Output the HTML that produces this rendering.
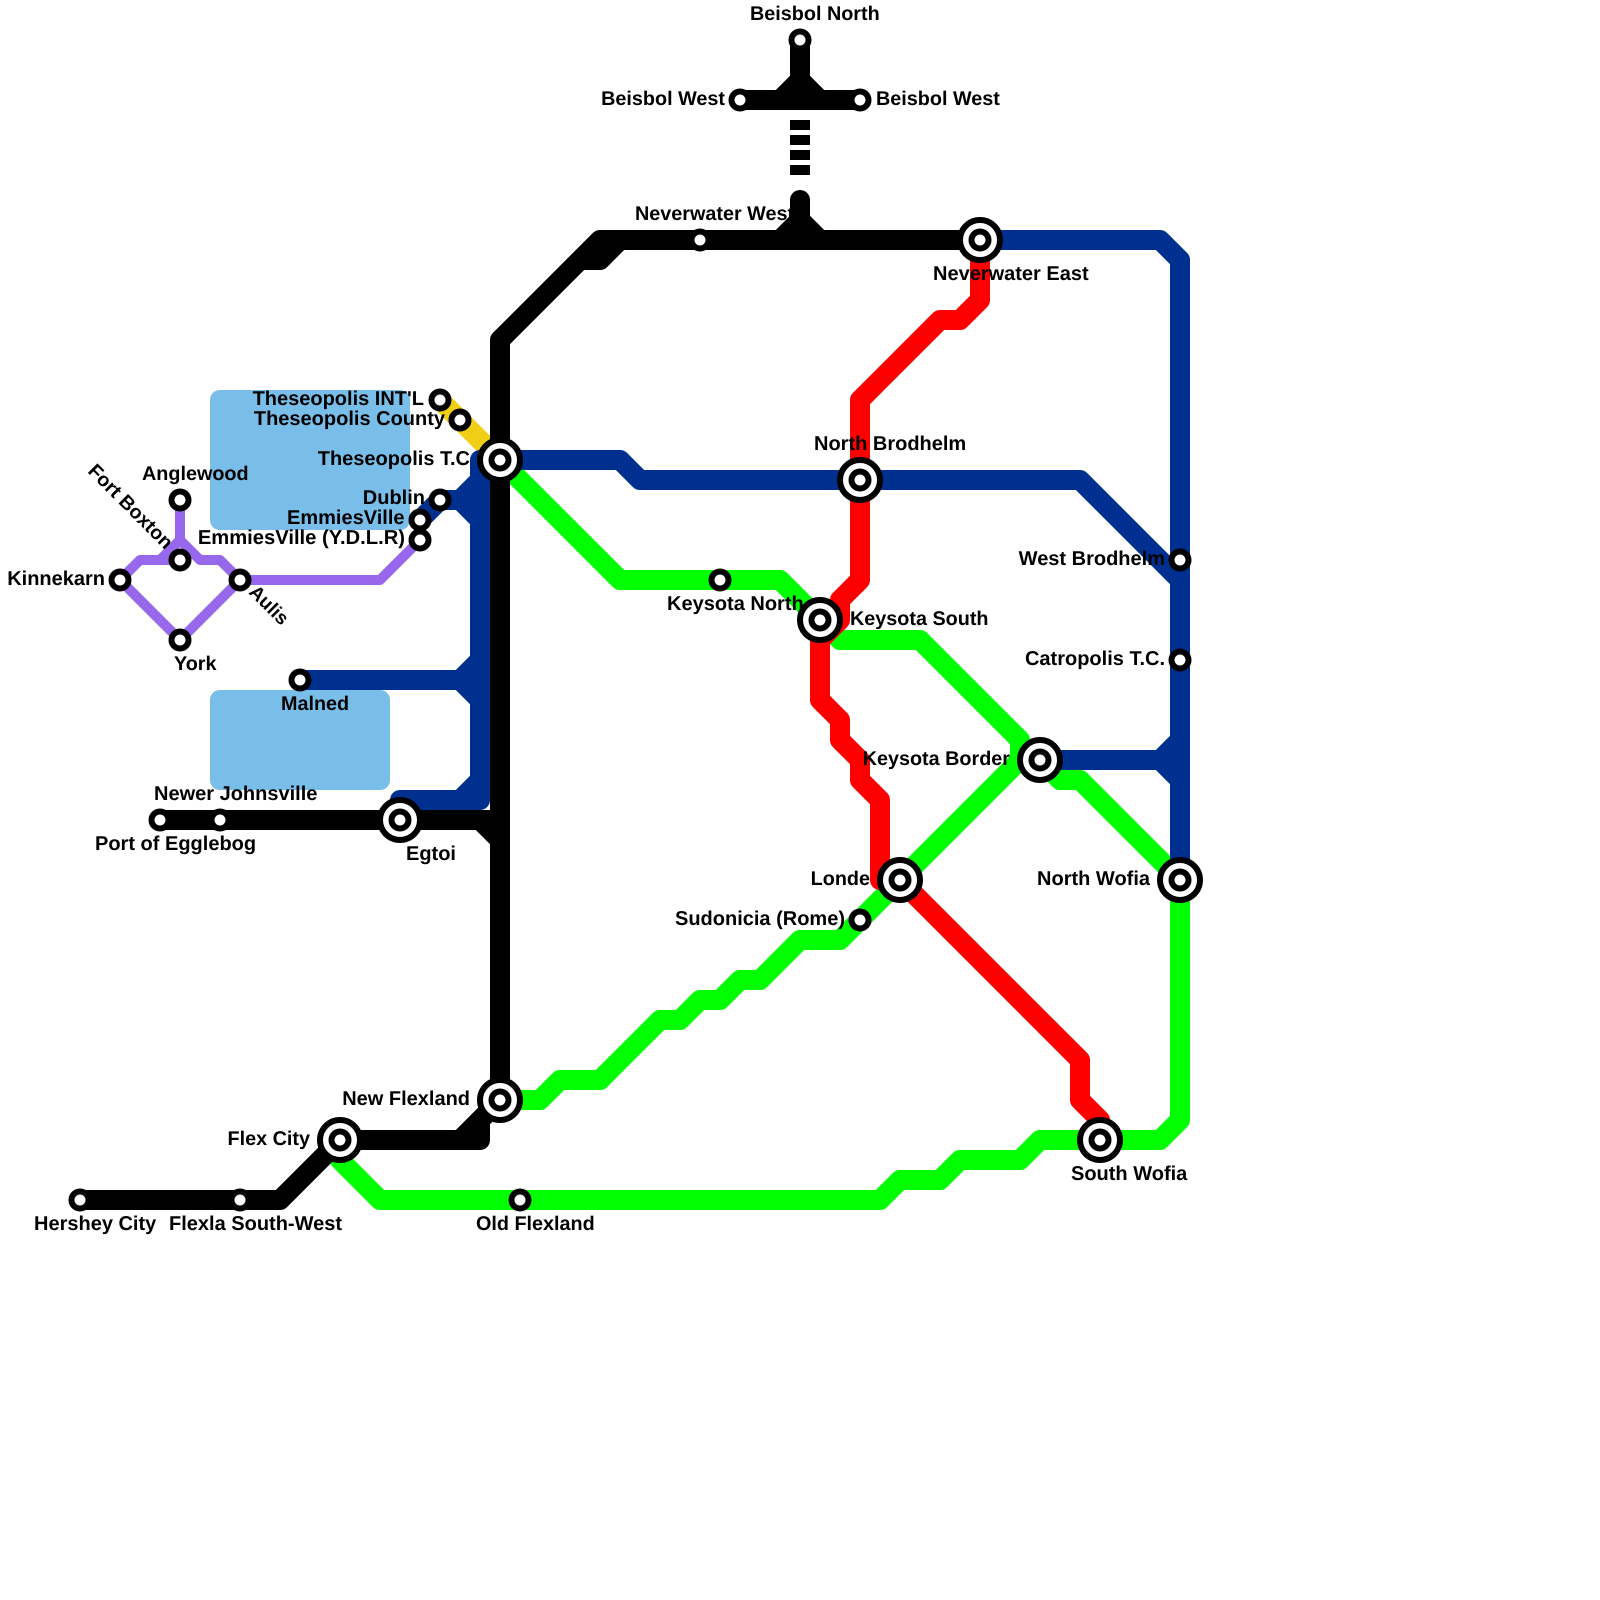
<!DOCTYPE html>
<html><head><meta charset="utf-8"><style>
html,body{margin:0;padding:0;background:#fff}
svg{display:block}
text{font-family:"Liberation Sans",sans-serif;font-weight:bold;font-size:19.8px;fill:#000;text-rendering:geometricPrecision}
text.w{font-size:20px}
.l{fill:none;stroke-linejoin:round;stroke-linecap:round;stroke-width:20}
.b{fill:none;stroke-linejoin:round;stroke-linecap:butt;stroke-width:20}
</style></head><body>
<svg width="1600" height="1600" viewBox="0 0 1600 1600" xmlns="http://www.w3.org/2000/svg">
<rect x="210" y="390" width="200" height="140" rx="10" fill="#79bde9"/>
<rect x="210" y="690" width="180" height="100" rx="10" fill="#79bde9"/>

<!-- purple -->
<g class="l" stroke="#9768eb" style="stroke-width:10">
<path d="M180 500V540L200 560H220L240 580"/>
<path d="M120 580L140 560H180"/>
<path d="M180 540L160 560"/>
<path d="M120 580L180 640L240 580H380L420 540"/>
</g>
<!-- yellow -->
<path class="l" stroke="#f0ce15" d="M440 400L500 460"/>
<!-- green -->
<g class="l" stroke="#00ff00">
<path d="M500 460L620 580H780L820 620L840 640H920L1020 740V760L840 940H800L760 980H740L720 1000H700L680 1020H660L600 1080H560L540 1100H500"/>
<path d="M1040 760L1060 780H1080L1180 880V1120L1160 1140H1040L1020 1160H960L940 1180H900L880 1200H380L340 1160V1140"/>
</g>
<!-- blue -->
<g class="l" stroke="#00308f">
<path d="M980 240H1160L1180 260V880"/>
<path d="M500 460H620L640 480H1080L1180 580"/>
<path d="M1040 760H1160"/>
<path d="M500 460H480V800H400"/>
<path d="M300 680H460"/>
<path d="M420 520L440 500H480"/>
</g>
<g class="b" stroke="#00308f">
<path d="M1160 760L1180 740M1160 760L1180 780"/>
<path d="M460 680L480 660M460 680L480 700"/>
<path d="M460 500L480 480M460 500L480 520"/>
<path d="M460 800L480 780"/>
</g>
<!-- red -->
<path class="l" stroke="#ff0000" d="M980 240V300L960 320H940L860 400V580L840 600V620L820 640V700L840 720V740L860 760V780L880 800V880H900L1080 1060V1100L1100 1120V1140"/>
<!-- black -->
<g class="l" stroke="#000">
<path d="M740 100H860"/>
<path d="M800 40V100"/>
<path d="M800 200V240"/>
<path d="M500 1100V340L600 240H980"/>
<path d="M160 820H500"/>
<path d="M340 1140H480V1120L500 1100"/>
<path d="M80 1200H280L340 1140"/>
</g>
<g class="b" stroke="#000">
<path d="M780 100L800 80L820 100"/>
<path d="M780 240L800 220L820 240"/>
<path d="M580 260H600L620 240"/>
<path d="M480 820L500 840"/>
<path d="M460 1140L480 1120"/>
</g>
<g fill="#000">
<rect x="790" y="120" width="20" height="10"/>
<rect x="790" y="135" width="20" height="10"/>
<rect x="790" y="150" width="20" height="10"/>
<rect x="790" y="165" width="20" height="10"/>
</g>

<!-- interchange outer rings -->
<g fill="#fff" stroke="#000" stroke-width="6">
<circle cx="500" cy="460" r="20"/>
<circle cx="980" cy="240" r="20"/>
<circle cx="860" cy="480" r="20"/>
<circle cx="820" cy="620" r="20"/>
<circle cx="1040" cy="760" r="20"/>
<circle cx="900" cy="880" r="20"/>
<circle cx="1180" cy="880" r="20"/>
<circle cx="1100" cy="1140" r="20"/>
<circle cx="500" cy="1100" r="20"/>
<circle cx="340" cy="1140" r="20"/>
<circle cx="400" cy="820" r="20"/>
</g>
<!-- stations -->
<g fill="#fff" stroke="#000" stroke-width="6">
<circle cx="500" cy="460" r="8.5"/><circle cx="980" cy="240" r="8.5"/><circle cx="860" cy="480" r="8.5"/>
<circle cx="820" cy="620" r="8.5"/><circle cx="1040" cy="760" r="8.5"/><circle cx="900" cy="880" r="8.5"/>
<circle cx="1180" cy="880" r="8.5"/><circle cx="1100" cy="1140" r="8.5"/><circle cx="500" cy="1100" r="8.5"/>
<circle cx="340" cy="1140" r="8.5"/><circle cx="400" cy="820" r="8.5"/>
<circle cx="800" cy="40" r="8.5"/><circle cx="740" cy="100" r="8.5"/><circle cx="860" cy="100" r="8.5"/>
<circle cx="700" cy="240" r="8.5"/><circle cx="720" cy="580" r="8.5"/>
<circle cx="440" cy="400" r="8.5"/><circle cx="460" cy="420" r="8.5"/><circle cx="440" cy="500" r="8.5"/>
<circle cx="420" cy="520" r="8.5"/><circle cx="420" cy="540" r="8.5"/>
<circle cx="180" cy="500" r="8.5"/><circle cx="180" cy="560" r="8.5"/><circle cx="120" cy="580" r="8.5"/>
<circle cx="240" cy="580" r="8.5"/><circle cx="180" cy="640" r="8.5"/>
<circle cx="300" cy="680" r="8.5"/><circle cx="160" cy="820" r="8.5"/><circle cx="220" cy="820" r="8.5"/>
<circle cx="80" cy="1200" r="8.5"/><circle cx="240" cy="1200" r="8.5"/><circle cx="520" cy="1200" r="8.5"/>
<circle cx="860" cy="920" r="8.5"/><circle cx="1180" cy="560" r="8.5"/><circle cx="1180" cy="660" r="8.5"/>
</g>

<!-- labels -->
<text x="750" y="20">Beisbol North</text>
<text x="725" y="105" text-anchor="end">Beisbol West</text>
<text x="876" y="105">Beisbol West</text>
<text x="635" y="220">Neverwater West</text>
<text class="w" x="933" y="280">Neverwater East</text>
<text class="w" x="424" y="405" text-anchor="end">Theseopolis INT'L</text>
<text class="w" x="445" y="425" text-anchor="end">Theseopolis County</text>
<text class="w" x="470" y="465" text-anchor="end">Theseopolis T.C</text>
<text class="w" x="425" y="504" text-anchor="end">Dublin</text>
<text class="w" x="404.5" y="524" text-anchor="end">EmmiesVille</text>
<text x="405" y="544" text-anchor="end" style="font-size:20.2px">EmmiesVille (Y.D.L.R)</text>
<text class="w" x="105" y="585" text-anchor="end">Kinnekarn</text>
<text x="142" y="480">Anglewood</text>
<text x="174" y="670">York</text>
<text x="87" y="472" transform="rotate(45 87 472)" style="font-size:19.5px">Fort Boxton</text>
<text x="248" y="593" transform="rotate(45 248 593)" style="font-size:19.2px">Aulis</text>
<text x="281" y="710">Malned</text>
<text class="w" x="154" y="800">Newer Johnsville</text>
<text class="w" x="95" y="850">Port of Egglebog</text>
<text class="w" x="406" y="860">Egtoi</text>
<text class="w" x="470" y="1105" text-anchor="end">New Flexland</text>
<text x="310" y="1145" text-anchor="end">Flex City</text>
<text class="w" x="34" y="1230">Hershey City</text>
<text class="w" x="169" y="1230">Flexla South-West</text>
<text x="476" y="1230">Old Flexland</text>
<text class="w" x="814" y="450">North Brodhelm</text>
<text class="w" x="667" y="610">Keysota North</text>
<text x="850" y="625">Keysota South</text>
<text class="w" x="1165" y="565" text-anchor="end">West Brodhelm</text>
<text class="w" x="1165" y="665" text-anchor="end">Catropolis T.C.</text>
<text x="1010" y="765" text-anchor="end">Keysota Border</text>
<text x="870" y="885" text-anchor="end">Londe</text>
<text class="w" x="1150" y="885" text-anchor="end">North Wofia</text>
<text class="w" x="845" y="925" text-anchor="end">Sudonicia (Rome)</text>
<text class="w" x="1071" y="1180">South Wofia</text>
</svg>
</body></html>
